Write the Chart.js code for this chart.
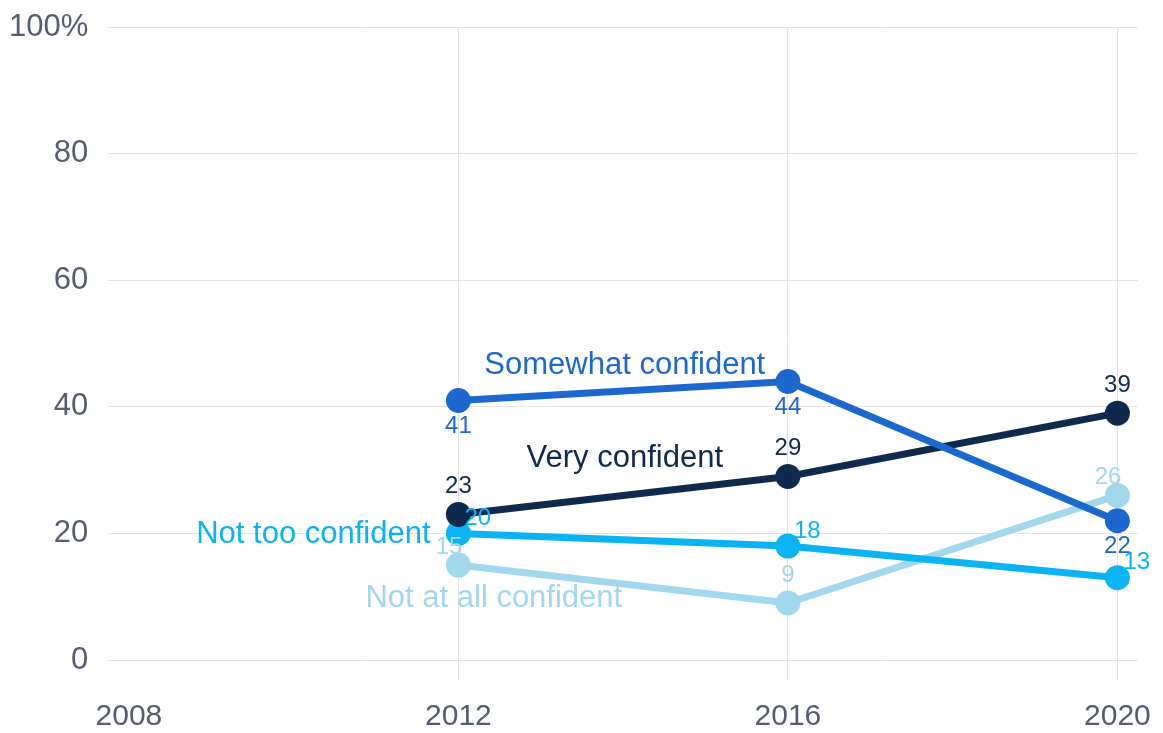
<!DOCTYPE html>
<html>
<head>
<meta charset="utf-8">
<style>
  html, body { margin: 0; padding: 0; background: #fff; }
  #wrap { width: 1163px; height: 733px; }
</style>
<script src="https://cdn.jsdelivr.net/npm/chart.js@4/dist/chart.umd.min.js"></script>
</head>
<body>
<div id="wrap"><canvas id="chart"></canvas></div>
<script>
// -------------------------------------------------------------
// Data
// -------------------------------------------------------------
const years = [2012, 2016, 2020]
const veryConfident = [23, 29, 39]
const somewhatConfident = [41, 44, 22]
const notTooConfident = [20, 18, 13]
const notAtAllConfident = [15, 9, 26]
const xTicks = [2008, 2012, 2016, 2020]
const yTicks = [0, 20, 40, 60, 80, 100]

const FONT = '"Liberation Sans", Arial, sans-serif'
const AXIS_COLOR = '#565d70'
const GRID_COLOR = '#e4e4e4'

// series: name, values, colour, where the value labels go, where the name goes (data coords)
const series = [
  { name: 'Somewhat confident', values: somewhatConfident, color: '#1d68cf',
    valuePos: ['below', 'below', 'below'], nameAt: [2014.02, 46.6] },
  { name: 'Very confident', values: veryConfident, color: '#0e2a4d',
    valuePos: ['above', 'above', 'above'], nameAt: [2014.02, 31.8] },
  { name: 'Not too confident', values: notTooConfident, color: '#0ab4f2',
    valuePos: ['right', 'right', 'right'], nameAt: [2010.24, 19.9] },
  { name: 'Not at all confident', values: notAtAllConfident, color: '#a3d7ee',
    valuePos: ['left', 'above', 'left'], nameAt: [2012.43, 9.8] }
]

// -------------------------------------------------------------
// Labels plugin: value labels next to points + series names
// -------------------------------------------------------------
const labelPlugin = {
  id: 'seriesLabels',
  afterDatasetsDraw(chart) {
    const { ctx, scales: { x, y } } = chart
    ctx.save()
    ctx.textBaseline = 'middle'
    series.forEach(s => {
      ctx.fillStyle = s.color
      ctx.font = `24px ${FONT}`
      s.values.forEach((v, i) => {
        const px = x.getPixelForValue(years[i])
        const py = y.getPixelForValue(v)
        const pos = s.valuePos[i]
        if (pos === 'above') { ctx.textAlign = 'center'; ctx.fillText(v, px, py - 28) }
        else if (pos === 'below') { ctx.textAlign = 'center'; ctx.fillText(v, px, py + 26) }
        else if (pos === 'right') { ctx.textAlign = 'left'; ctx.fillText(v, px + 6, py - 15) }
        else { ctx.textAlign = 'right'; ctx.fillText(v, px + 4, py - 18) }
      })
      ctx.font = `31px ${FONT}`
      ctx.textAlign = 'center'
      ctx.fillText(s.name, x.getPixelForValue(s.nameAt[0]), y.getPixelForValue(s.nameAt[1]))
    })
    ctx.restore()
  }
}

// -------------------------------------------------------------
// Chart
// -------------------------------------------------------------
new Chart(document.getElementById('chart'), {
  type: 'line',
  data: {
    datasets: series.map(s => ({
      label: s.name,
      data: s.values.map((v, i) => ({ x: years[i], y: v })),
      borderColor: s.color,
      backgroundColor: s.color,
      borderWidth: 7,
      pointRadius: 12.5,
      pointHoverRadius: 12.5,
      pointBorderWidth: 0,
      tension: 0,
      clip: false
    }))
  },
  options: {
    responsive: true,
    maintainAspectRatio: false,
    animation: false,
    layout: { padding: { top: 27, right: 25, bottom: -21, left: -11 } },
    plugins: { legend: { display: false }, tooltip: { enabled: false } },
    scales: {
      x: {
        type: 'linear',
        min: 2007.75,
        max: 2020.25,
        afterBuildTicks: axis => { axis.ticks = xTicks.map(v => ({ value: v })) },
        afterFit: axis => { axis.paddingRight = 0 },
        border: { display: false },
        grid: {
          color: c => (c.tick && c.tick.value === 2008 ? 'rgba(0,0,0,0)' : GRID_COLOR),
          tickLength: 20,
          lineWidth: 1
        },
        ticks: {
          color: AXIS_COLOR,
          font: { family: FONT, size: 30, lineHeight: 1 },
          padding: 22,
          maxRotation: 0,
          callback: v => String(v)
        }
      },
      y: {
        min: 0,
        max: 100,
        afterBuildTicks: axis => { axis.ticks = yTicks.map(v => ({ value: v })) },
        afterFit: axis => { axis.paddingTop = 0 },
        border: { display: false },
        grid: { color: GRID_COLOR, drawTicks: false, lineWidth: 1 },
        ticks: {
          color: AXIS_COLOR,
          font: { family: FONT, size: 31, lineHeight: 0.8 },
          padding: 20,
          callback: v => (v === 100 ? '100%' : String(v))
        }
      }
    }
  },
  plugins: [labelPlugin]
})
</script>
</body>
</html>
